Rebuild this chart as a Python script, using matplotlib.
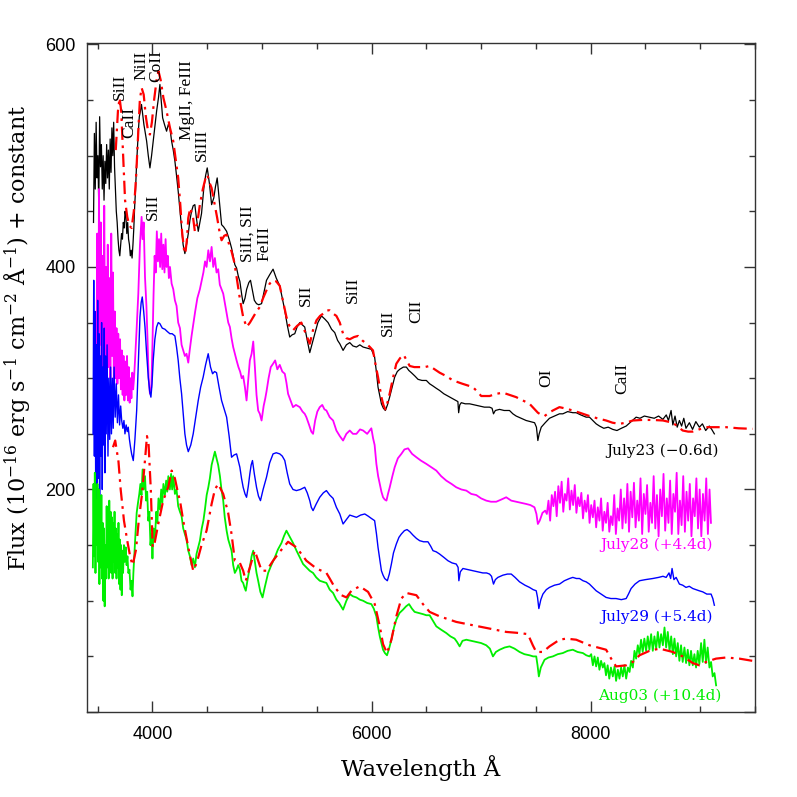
import numpy as np
import matplotlib
matplotlib.use('Agg')
import matplotlib.pyplot as plt
from matplotlib.ticker import MultipleLocator, FuncFormatter


# --------------------------------------------------------------------------- #
# Data (wavelength in Angstrom, flux + constant)
# --------------------------------------------------------------------------- #
july23_wave = [3462, 3470, 3478, 3486, 3494, 3502, 3510, 3518, 3526, 3534, 3542, 3550, 3558, 3566, 3574,
               3582, 3590, 3598, 3606, 3614, 3622, 3630, 3638, 3646, 3654, 3662, 3670, 3678, 3686, 3694,
               3702, 3710, 3718, 3726, 3734, 3742, 3750, 3758, 3766, 3774, 3782, 3790, 3798, 3806, 3814,
               3822, 3830, 3838, 3846, 3854, 3862, 3870, 3880, 3890, 3900, 3922, 3947, 3962, 3977, 3992,
               4007, 4038, 4055, 4068, 4080, 4093, 4110, 4129, 4145, 4159, 4175, 4190, 4205, 4220, 4235,
               4250, 4266, 4280, 4296, 4311, 4327, 4342, 4357, 4372, 4387, 4400, 4418, 4433, 4448, 4469,
               4485, 4500, 4520, 4540, 4560, 4575, 4591, 4610, 4631, 4650, 4677, 4700, 4722, 4737, 4752,
               4768, 4783, 4798, 4815, 4828, 4845, 4860, 4880, 4895, 4915, 4930, 4950, 4970, 4996, 5020,
               5041, 5070, 5101, 5130, 5162, 5185, 5208, 5230, 5253, 5275, 5299, 5320, 5345, 5368, 5390,
               5413, 5436, 5460, 5482, 5510, 5543, 5575, 5603, 5635, 5664, 5690, 5710, 5740, 5770, 5801,
               5830, 5862, 5893, 5923, 5960, 5998, 6028, 6045, 6059, 6075, 6090, 6108, 6126, 6145, 6165,
               6190, 6211, 6235, 6257, 6290, 6318, 6340, 6363, 6395, 6424, 6460, 6500, 6530, 6561, 6590,
               6621, 6660, 6697, 6735, 6773, 6788, 6795, 6805, 6819, 6855, 6895, 6940, 6986, 7030, 7077,
               7100, 7113, 7130, 7168, 7210, 7259, 7290, 7320, 7365, 7411, 7450, 7488, 7505, 7518, 7530,
               7549, 7585, 7624, 7670, 7715, 7746, 7790, 7837, 7868, 7910, 7959, 7989, 8020, 8050, 8081,
               8120, 8160, 8202, 8240, 8280, 8324, 8370, 8415, 8450, 8490, 8537, 8580, 8620, 8659, 8690,
               8710, 8734, 8750, 8770, 8790, 8810, 8830, 8850, 8870, 8901, 8930, 8960, 8992, 9020, 9050,
               9083, 9105, 9129]
july23_flux = [440, 520, 470, 530, 480, 500, 455, 535, 490, 510, 470, 500, 460, 495, 475,
               510, 480, 505, 470, 515, 485, 525, 500, 530, 490, 470, 450, 440, 425, 415,
               410, 420, 430, 425, 440, 435, 450, 445, 430, 440, 425, 420, 410, 415, 408,
               420, 435, 455, 470, 490, 505, 520, 535, 540, 546, 528, 513, 500, 489, 500,
               513, 540, 552, 564, 550, 534, 528, 522, 528, 525, 513, 505, 495, 482, 468,
               452, 435, 420, 412, 420, 430, 442, 450, 455, 456, 445, 432, 440, 448, 471,
               482, 489, 475, 456, 462, 472, 480, 460, 438, 436, 432, 425, 417, 410, 402,
               399, 392, 387, 375, 367, 372, 380, 386, 388, 378, 370, 367, 366, 367, 378,
               388, 393, 398, 390, 383, 372, 361, 348, 337, 339, 340, 346, 350, 348, 346,
               334, 323, 332, 340, 350, 356, 353, 350, 344, 341, 334, 331, 325, 330, 332,
               329, 328, 330, 328, 327, 326, 319, 305, 292, 284, 277, 273, 271, 276, 283,
               293, 301, 306, 308, 310, 310, 307, 305, 302, 299, 298, 298, 295, 293, 291,
               289, 286, 284, 282, 280, 279, 269, 276, 278, 277, 277, 276, 275, 274, 274,
               273, 268, 271, 272, 271, 271, 268, 266, 264, 262, 261, 260, 256, 244, 250,
               256, 260, 264, 266, 268, 268, 270, 269, 269, 267, 265, 265, 262, 259, 257,
               255, 256, 254, 253, 255, 257, 261, 265, 264, 266, 265, 264, 266, 263, 267,
               262, 271, 258, 266, 256, 262, 257, 264, 255, 260, 254, 261, 256, 259, 253,
               257, 254, 250]

model23_wave = [3665, 3685, 3700, 3715, 3730, 3750, 3770, 3790, 3810, 3830, 3850, 3870, 3885, 3901, 3920,
                3940, 3960, 3977, 3995, 4015, 4038, 4055, 4075, 4100, 4129, 4160, 4190, 4215, 4235, 4255,
                4270, 4290, 4300, 4315, 4327, 4345, 4370, 4387, 4410, 4433, 4460, 4485, 4500, 4520, 4540,
                4565, 4591, 4615, 4631, 4655, 4677, 4700, 4722, 4745, 4768, 4800, 4828, 4859, 4890, 4920,
                4950, 4980, 5010, 5041, 5070, 5101, 5130, 5162, 5190, 5223, 5250, 5283, 5320, 5359, 5400,
                5436, 5465, 5497, 5530, 5558, 5590, 5618, 5650, 5679, 5710, 5740, 5770, 5801, 5840, 5877,
                5915, 5953, 5985, 6013, 6035, 6059, 6075, 6090, 6108, 6126, 6145, 6165, 6195, 6226, 6260,
                6293, 6320, 6348, 6390, 6439, 6485, 6530, 6575, 6621, 6680, 6743, 6830, 6925, 6965, 7001,
                7040, 7077, 7140, 7199, 7260, 7320, 7380, 7442, 7480, 7518, 7550, 7579, 7620, 7655, 7715,
                7760, 7837, 7900, 7989, 8060, 8141, 8200, 8263, 8320, 8385, 8470, 8567, 8660, 8749, 8790,
                8840, 8890, 8931, 8990, 9053, 9150, 9235, 9350, 9478]
model23_flux = [505, 540, 552, 540, 505, 460, 445, 437, 435, 450, 480, 520, 550, 561, 555,
                535, 522, 519, 530, 550, 568, 576, 568, 552, 540, 525, 513, 495, 480, 455,
                432, 414, 412, 425, 444, 453, 445, 432, 440, 456, 470, 480, 483, 476, 471,
                458, 444, 430, 424, 428, 429, 420, 414, 405, 391, 370, 355, 346, 350, 355,
                360, 364, 372, 379, 385, 388, 387, 383, 370, 355, 347, 343, 347, 350, 340,
                331, 343, 352, 356, 358, 361, 361, 358, 356, 350, 340, 336, 335, 337, 338,
                334, 331, 328, 325, 313, 301, 292, 283, 276, 272, 278, 286, 300, 313, 318,
                321, 316, 311, 310, 310, 310, 311, 308, 305, 302, 298, 295, 292, 288, 284,
                284, 284, 286, 287, 285, 283, 280, 277, 273, 269, 267, 266, 269, 271, 274,
                273, 271, 269, 266, 264, 262, 260, 259, 260, 262, 262.5, 262.5, 262, 260, 257,
                253, 252, 252, 254, 256, 256, 256, 255, 254.5]

july28_wave = [3488, 3496, 3504, 3512, 3520, 3528, 3536, 3544, 3552, 3560, 3568, 3576, 3584, 3592, 3600,
               3608, 3616, 3624, 3632, 3640, 3648, 3656, 3664, 3672, 3680, 3688, 3696, 3704, 3712, 3720,
               3728, 3736, 3744, 3752, 3760, 3768, 3776, 3784, 3792, 3800, 3808, 3816, 3824, 3832, 3841,
               3856, 3871, 3886, 3901, 3910, 3920, 3932, 3945, 3955, 3965, 3977, 3990, 4000, 4010, 4020,
               4030, 4040, 4050, 4060, 4070, 4080, 4090, 4100, 4110, 4120, 4129, 4140, 4150, 4160, 4175,
               4190, 4205, 4220, 4235, 4251, 4266, 4281, 4296, 4311, 4327, 4340, 4357, 4372, 4390, 4410,
               4433, 4450, 4465, 4480, 4494, 4510, 4525, 4540, 4555, 4570, 4585, 4600, 4615, 4630, 4646,
               4660, 4677, 4692, 4707, 4722, 4737, 4752, 4768, 4785, 4800, 4815, 4828, 4844, 4859, 4874,
               4889, 4905, 4920, 4935, 4950, 4965, 4980, 4996, 5015, 5030, 5041, 5060, 5080, 5101, 5120,
               5140, 5162, 5185, 5208, 5223, 5238, 5260, 5283, 5310, 5345, 5370, 5390, 5405, 5430, 5450,
               5466, 5485, 5505, 5527, 5550, 5570, 5588, 5618, 5649, 5679, 5710, 5740, 5770, 5801, 5830,
               5862, 5895, 5923, 5960, 5998, 6014, 6028, 6044, 6060, 6075, 6090, 6105, 6120, 6136, 6150,
               6166, 6190, 6211, 6240, 6272, 6300, 6333, 6370, 6409, 6450, 6500, 6545, 6591, 6635, 6682,
               6730, 6773, 6820, 6865, 6910, 6956, 7000, 7047, 7090, 7138, 7185, 7229, 7275, 7320, 7365,
               7411, 7450, 7487, 7505, 7518, 7535, 7560, 7585,
               7600, 7615, 7630, 7645, 7660, 7675, 7690, 7705, 7720, 7735, 7750, 7765, 7780, 7795, 7810,
               7825, 7840, 7855, 7870, 7885, 7900, 7915, 7930, 7945, 7960, 7975, 7990, 8005, 8020, 8035,
               8050, 8065, 8080, 8095, 8110, 8125, 8140, 8155, 8170, 8185, 8200, 8215, 8230, 8245, 8260,
               8275, 8290, 8305, 8320, 8335, 8350, 8365, 8380, 8395, 8410, 8425, 8440, 8455, 8470, 8485,
               8500, 8515, 8530, 8545, 8560, 8575, 8590, 8605, 8620, 8635, 8650, 8665, 8680, 8695, 8710,
               8725, 8740, 8755, 8770, 8785, 8800, 8815, 8830, 8845, 8860, 8875, 8890, 8905, 8920, 8935,
               8950, 8965, 8980, 8995, 9010, 9025, 9040, 9055, 9070, 9085, 9098]
july28_flux = [300, 430, 280, 470, 330, 440, 290, 410, 300, 455, 320, 400, 285, 420, 310,
               390, 300, 430, 320, 395, 290, 360, 300, 345, 295, 340, 300, 335, 290, 325,
               285, 320, 280, 315, 285, 320, 280, 310, 278, 300, 282, 305, 290, 300, 316,
               345, 376, 420, 445, 425, 440, 391, 365, 335, 300, 286, 292, 330, 375, 410,
               395, 432, 405, 425, 400, 430, 398, 420, 395, 425, 400, 410, 390, 400, 385,
               380, 370, 365, 350, 345, 330, 325, 320, 322, 314, 325, 338, 348, 360, 372,
               380, 388, 395, 405, 400, 415, 405, 418, 400, 408, 395, 398, 384, 380, 376,
               368, 358, 350, 346, 336, 328, 322, 316, 310, 306, 300, 302, 292, 280, 298,
               316, 322, 333, 310, 285, 271, 268, 262, 275, 282, 288, 300, 310, 313, 316,
               308, 312, 306, 304, 296, 286, 280, 274, 276, 274, 270, 268, 265, 258, 252,
               250, 262, 270, 274, 276, 272, 271, 265, 262, 253, 248, 244, 250, 253, 250,
               250, 254, 253, 250, 255, 246, 240, 223, 212, 205, 198, 193, 191, 190, 196,
               202, 212, 220, 228, 232, 236, 237, 232, 229, 226, 223, 220, 217, 212, 208,
               205, 202, 200, 199, 196, 195, 192, 190, 189, 189, 191, 193, 190, 189, 188,
               187, 186, 184, 178, 169, 172, 179, 181,
               178, 190, 172, 195, 185, 198, 176, 203, 188, 207, 180, 196, 190, 210, 182,
               199, 186, 204, 179, 193, 185, 197, 174, 190, 180, 195, 170, 186, 175, 190,
               166, 184, 172, 192, 163, 180, 170, 188, 162, 176, 168, 195, 160, 183, 172,
               200, 165, 192, 170, 205, 162, 198, 175, 206, 166, 190, 172, 210, 160, 196,
               178, 204, 162, 188, 170, 212, 165, 195, 158, 200, 176, 214, 163, 192, 170,
               208, 160, 196, 180, 215, 160, 190, 168, 212, 162, 198, 172, 205, 158, 192,
               176, 210, 165, 200, 158, 196, 172, 210, 160, 200, 170]

july29_wave = [3458, 3464, 3470, 3476, 3482, 3488, 3494, 3500, 3506, 3512, 3518, 3524, 3530, 3536, 3542,
               3548, 3554, 3560, 3566, 3572, 3578, 3586, 3594, 3602, 3610, 3618, 3626, 3634, 3642, 3650,
               3660, 3670, 3680, 3690, 3700, 3710, 3719, 3730, 3740, 3749, 3760, 3770, 3779, 3790, 3800,
               3810, 3825, 3840, 3856, 3870, 3886, 3897, 3907, 3920, 3932, 3947, 3962, 3975, 3986, 3996,
               4007, 4022, 4038, 4053, 4068, 4090, 4114, 4135, 4159, 4180, 4205, 4220, 4235, 4250, 4266,
               4281, 4296, 4311, 4327, 4350, 4372, 4395, 4418, 4440, 4463, 4485, 4509, 4530, 4549, 4567,
               4585, 4608, 4631, 4655, 4677, 4700, 4722, 4745, 4768, 4783, 4798, 4813, 4828, 4845, 4859,
               4875, 4889, 4901, 4913, 4930, 4950, 4968, 4986, 5010, 5041, 5070, 5101, 5130, 5162, 5185,
               5208, 5230, 5253, 5283, 5314, 5350, 5390, 5413, 5436, 5450, 5466, 5495, 5527, 5560, 5588,
               5618, 5649, 5679, 5710, 5740, 5770, 5801, 5830, 5862, 5900, 5938, 5970, 5998, 6028, 6045,
               6059, 6075, 6090, 6105, 6120, 6144, 6162, 6181, 6200, 6226, 6250, 6272, 6300, 6324, 6350,
               6378, 6410, 6439, 6475, 6515, 6540, 6561, 6590, 6621, 6660, 6697, 6735, 6773, 6790, 6797,
               6810, 6834, 6880, 6925, 6970, 7016, 7050, 7077, 7095, 7113, 7130, 7153, 7199, 7240, 7275,
               7310, 7351, 7400, 7442, 7475, 7503, 7515, 7527, 7545, 7564, 7595, 7624, 7670, 7716, 7760,
               7807, 7837, 7870, 7898, 7930, 7959, 7989, 8020, 8050, 8095, 8141, 8185, 8232, 8280, 8324,
               8345, 8369, 8405, 8446, 8500, 8567, 8620, 8660, 8689, 8715, 8730, 8743, 8760, 8780, 8810,
               8840, 8870, 8900, 8932, 8960, 8990, 9023, 9060, 9099, 9115, 9129]
july29_flux = [250, 388, 230, 360, 200, 330, 180, 370, 210, 340, 175, 320, 230, 350, 200,
               310, 240, 345, 215, 320, 250, 330, 230, 300, 245, 310, 250, 300, 255, 310,
               265, 295, 260, 285, 258, 275, 262, 255, 262, 250, 258, 252, 256, 245, 238,
               232, 226, 245, 271, 310, 355, 368, 373, 360, 346, 322, 301, 288, 283, 295,
               316, 335, 346, 350, 349, 345, 344, 342, 340, 340, 338, 328, 316, 300, 286,
               268, 250, 240, 234, 240, 250, 265, 280, 292, 301, 312, 322, 310, 304, 306,
               305, 292, 280, 272, 265, 248, 229, 231, 232, 226, 220, 210, 202, 196, 193,
               203, 214, 222, 226, 214, 202, 194, 190, 200, 211, 224, 232, 233, 232, 230,
               226, 215, 205, 200, 199, 200, 202, 197, 190, 184, 181, 187, 193, 197, 199,
               195, 192, 184, 178, 169, 173, 177, 176, 175, 177, 178, 176, 174, 172, 160,
               148, 137, 127, 123, 120, 118, 124, 133, 143, 151, 157, 160, 163, 164, 162,
               159, 156, 154, 153, 153, 149, 145, 144, 142, 139, 136, 134, 133, 130, 118,
               126, 129, 128, 127, 126, 125, 125, 124, 122, 115, 119, 121, 123, 124, 124,
               121, 117, 114, 112, 110, 109, 103, 93, 101, 106, 110, 112, 114, 115, 118,
               120, 121, 120, 120, 118, 117, 115, 112, 109, 106, 103, 102, 102, 101, 102,
               106, 111, 115, 118, 119, 120, 121, 122, 121, 125, 120, 129, 119, 121, 115,
               114, 112, 113, 111, 110, 109, 108, 106, 106, 102, 96]

aug03_wave = [3456, 3462, 3468, 3474, 3480, 3486, 3492, 3498, 3504, 3510, 3516, 3522, 3528, 3534, 3540,
              3546, 3552, 3558, 3564, 3570, 3576, 3582, 3588, 3594, 3600, 3606, 3612, 3618, 3624, 3630,
              3636, 3642, 3648, 3654, 3660, 3666, 3672, 3678, 3684, 3690, 3696, 3702, 3708, 3714, 3720,
              3726, 3732, 3740, 3748, 3756, 3764, 3772, 3780, 3790, 3800, 3810, 3818, 3826, 3834, 3845,
              3856, 3868, 3880, 3890, 3900, 3910, 3920, 3932, 3942, 3952, 3962, 3972, 3982, 3992, 4000,
              4010, 4022, 4035, 4045, 4055, 4068, 4080, 4090, 4100, 4114, 4125, 4135, 4145, 4159, 4170,
              4180, 4190, 4205, 4220, 4235, 4251, 4266, 4281, 4296, 4311, 4327, 4342, 4357, 4372, 4387,
              4402, 4418, 4433, 4450, 4465, 4479, 4495, 4510, 4524, 4540, 4555, 4570, 4585, 4600, 4616,
              4630, 4646, 4660, 4677, 4692, 4707, 4722, 4737, 4752, 4768, 4783, 4798, 4813, 4828, 4840,
              4852, 4870, 4889, 4905, 4920, 4935, 4950, 4965, 4985, 5005, 5025, 5056, 5085, 5117, 5145,
              5178, 5200, 5223, 5250, 5283, 5315, 5345, 5375, 5405, 5435, 5466, 5495, 5527, 5558, 5588,
              5618, 5649, 5679, 5704, 5740, 5770, 5801, 5830, 5862, 5893, 5923, 5960, 5998, 6020, 6044,
              6060, 6075, 6090, 6105, 6122, 6141, 6160, 6181, 6205, 6226, 6255, 6287, 6315, 6342, 6368,
              6393, 6430, 6469, 6500, 6530, 6560, 6591, 6635, 6682, 6720, 6758, 6780, 6804, 6830, 6865,
              6910, 6956, 7000, 7047, 7080, 7108, 7135, 7169, 7215, 7260, 7305, 7351, 7395, 7442, 7475,
              7503, 7515, 7527, 7545, 7579, 7615, 7655, 7700, 7746, 7790, 7837, 7880, 7929, 7960, 7989,
              8005, 8020, 8035, 8050, 8065, 8080, 8095, 8111, 8125, 8140, 8155, 8170, 8185, 8202, 8218,
              8232, 8248, 8263, 8278, 8293, 8308, 8324, 8340, 8355, 8369, 8385, 8400, 8415, 8430, 8445,
              8460, 8475, 8490, 8506, 8521, 8536, 8552, 8567, 8582, 8598, 8613, 8628, 8643, 8659, 8674,
              8689, 8704, 8720, 8735, 8750, 8765, 8780, 8795, 8810, 8825, 8840, 8856, 8871, 8886, 8901,
              8916, 8932, 8947, 8962, 8977, 8992, 9008, 9023, 9038, 9053, 9068, 9084, 9099, 9114, 9130,
              9145]
aug03_flux = [130, 205, 140, 215, 125, 190, 150, 205, 135, 200, 115, 180, 130, 195, 120,
              170, 100, 165, 95, 150, 120, 185, 130, 175, 120, 190, 140, 180, 125, 175,
              120, 170, 135, 180, 125, 165, 120, 160, 130, 170, 115, 155, 110, 150, 105,
              145, 125, 150, 135, 148, 132, 140, 125, 128, 110, 118, 104, 125, 140, 160,
              179, 188, 196, 205, 195, 218, 200, 212, 190, 198, 172, 180, 150, 160, 138,
              165, 155, 180, 170, 192, 182, 200, 188, 205, 195, 208, 198, 212, 200, 214,
              200, 212, 196, 200, 185, 180, 176, 165, 160, 155, 145, 140, 132, 138, 130,
              142, 148, 154, 165, 172, 182, 195, 202, 210, 222, 228, 234, 228, 222, 212,
              200, 190, 175, 163, 155, 150, 145, 132, 125, 128, 132, 128, 118, 116, 112,
              109, 120, 130, 140, 145, 135, 125, 118, 108, 103, 112, 125, 132, 139, 146,
              152, 158, 163, 158, 152, 145, 139, 133, 130, 127, 125, 121, 118, 117, 116,
              110, 107, 101, 98, 92, 100, 106, 104, 103, 101, 100, 98, 97, 93, 86,
              76, 68, 62, 56, 53, 51, 57, 65, 76, 83, 89, 92, 95, 97, 93,
              90, 89, 88, 87, 87, 82, 77, 74, 71, 68, 66, 63, 59, 64, 65,
              64, 63, 62, 60, 57, 50, 54, 56, 58, 59, 57, 54, 52, 51, 50,
              50, 42, 32, 40, 47, 49, 50, 52, 53, 55, 56, 54, 53, 51, 50,
              52, 42, 50, 41, 49, 38, 46, 40, 44, 33, 42, 30, 40, 32, 41,
              28, 38, 30, 40, 32, 42, 30, 40, 36, 46, 40, 55, 48, 60, 52,
              65, 54, 66, 55, 68, 56, 70, 55, 68, 57, 72, 58, 70, 60, 76,
              58, 72, 55, 68, 52, 66, 50, 62, 46, 60, 45, 58, 44, 56, 42,
              55, 42, 52, 40, 55, 43, 62, 45, 65, 44, 58, 40, 45, 32, 35,
              24]

model03_wave = [3640, 3660, 3690, 3710, 3740, 3770, 3800, 3820, 3850, 3875, 3905, 3935, 3950, 3965, 3985,
                4002, 4020, 4053, 4098, 4144, 4175, 4205, 4235, 4251, 4281, 4327, 4372, 4395, 4418, 4448,
                4494, 4540, 4570, 4600, 4646, 4691, 4722, 4752, 4798, 4828, 4852, 4889, 4934, 4965, 4996,
                5041, 5101, 5162, 5238, 5314, 5405, 5497, 5588, 5618, 5664, 5725, 5771, 5816, 5892, 5968,
                6029, 6075, 6105, 6141, 6181, 6226, 6272, 6318, 6409, 6469, 6530, 6621, 6773, 6925, 7077,
                7229, 7351, 7427, 7472, 7503, 7564, 7624, 7716, 7777, 7868, 7989, 8141, 8187, 8232, 8324,
                8385, 8446, 8537, 8628, 8749, 8840, 8932, 8992, 9053, 9144, 9235, 9357, 9478]
model03_flux = [238, 244, 225, 200, 172, 154, 138, 132, 146, 172, 196, 230, 248, 240, 200,
                148, 152, 169, 190, 202, 217, 210, 196, 190, 172, 148, 127, 132, 139, 150,
                163, 187, 200, 205, 196, 179, 160, 136, 134, 127, 118, 130, 145, 136, 127,
                127, 136, 144, 153, 148, 136, 129, 125, 120, 112, 105, 103, 109, 113, 108,
                97, 77, 61, 53, 65, 86, 102, 107, 105, 97, 90, 86, 81, 78, 75,
                72, 71, 70, 60, 54, 54, 59, 65, 66, 65, 60, 56, 48, 41, 42,
                45, 51, 55, 57, 54, 50, 44, 42, 45, 48, 49, 48, 46]

epoch_labels = ['July23 (\u22120.6d)', 'July28 (+4.4d)', 'July29 (+5.4d)', 'Aug03 (+10.4d)']
epoch_colors = ['black', '#ff00ff', '#0000ff', '#00ee00']
epoch_label_pos = [(8660, 235), (8600, 150), (8600, 85.5), (8630, 14.4)]

ion_labels = ['SiII', 'CaII', 'NiII', 'CoII', 'MgII, FeIII', 'SiIII', 'SiII', 'SiII, SII', 'FeIII',
              'SII', 'SiII', 'SiII', 'CII', 'OI', 'CaII']
ion_pos = [(3705, 562), (3788, 530), (3901, 581), (4038, 581), (4312, 550), (4448, 510), (4002, 454),
           (4873, 430), (5026, 421), (5397, 375), (5831, 379), (6150, 350), (6409, 360), (7594, 300),
           (8292, 300)]


# --------------------------------------------------------------------------- #
# Main
# --------------------------------------------------------------------------- #
def main():

  plt.rcParams['mathtext.fontset'] = 'dejavuserif';

  fig = plt.figure(figsize=(7.97, 7.97), dpi=100);
  ax = fig.add_axes([0.1088, 0.1066, 0.8385, 0.8391]);

  spectra = [(july23_wave, july23_flux), (july28_wave, july28_flux),
             (july29_wave, july29_flux), (aug03_wave, aug03_flux)];
  widths = [0.9, 1.3, 1.0, 1.3];
  for (w, f), c, lw in zip(spectra, epoch_colors, widths):
    ax.plot(w, f, color=c, lw=lw);

  # Models as red dash-dot
  dashdot = (0, (6, 2.5, 1.2, 2.5));
  ax.plot(model23_wave, model23_flux, color='red', lw=1.6, linestyle=dashdot);
  ax.plot(model03_wave, model03_flux, color='red', lw=1.6, linestyle=dashdot);

  for txt, (x, y) in zip(ion_labels, ion_pos):
    ax.text(x, y, txt, rotation=90, ha='center', va='center',
            family='Liberation Serif', fontsize=12.5, color='black');

  for txt, c, (x, y) in zip(epoch_labels, epoch_colors, epoch_label_pos):
    ax.text(x, y, txt, ha='center', va='center', family='DejaVu Serif',
            fontsize=11, color=c);

  ax.set_xlim(3400, 9500);
  ax.set_ylim(0, 601);

  ax.xaxis.set_major_locator(MultipleLocator(2000));
  ax.xaxis.set_minor_locator(MultipleLocator(500));
  ax.yaxis.set_major_locator(MultipleLocator(200));
  ax.yaxis.set_minor_locator(MultipleLocator(50));
  ax.yaxis.set_major_formatter(FuncFormatter(lambda v, p: '' if v == 0 else '%d' % v));
  ax.tick_params(which='both', direction='in', top=True, right=True, color='#333333', width=1);
  ax.tick_params(which='major', length=8);
  ax.tick_params(which='minor', length=4.5);
  ax.tick_params(axis='x', which='major', pad=10);
  ax.tick_params(axis='y', which='major', pad=8);
  for lbl in ax.get_xticklabels() + ax.get_yticklabels():
    lbl.set_family('Liberation Sans');
    lbl.set_fontsize(13);
  for s in ax.spines.values():
    s.set_color('#333333');
    s.set_linewidth(1);

  ax.set_xlabel('Wavelength \u00c5', family='DejaVu Serif', fontsize=16.5);
  ax.set_ylabel('Flux (10$^{-16}$ erg s$^{-1}$ cm$^{-2}$ \u00c5$^{-1}$) + constant',
                family='DejaVu Serif', fontsize=16);
  ax.xaxis.set_label_coords(0.5, -0.064);
  ax.yaxis.set_label_coords(-0.080, 0.56);

  fig.savefig('out.png', dpi=100);


# --------------------------------------------------------------------------- #
# Execute
# --------------------------------------------------------------------------- #
if __name__ == '__main__':
  main();
